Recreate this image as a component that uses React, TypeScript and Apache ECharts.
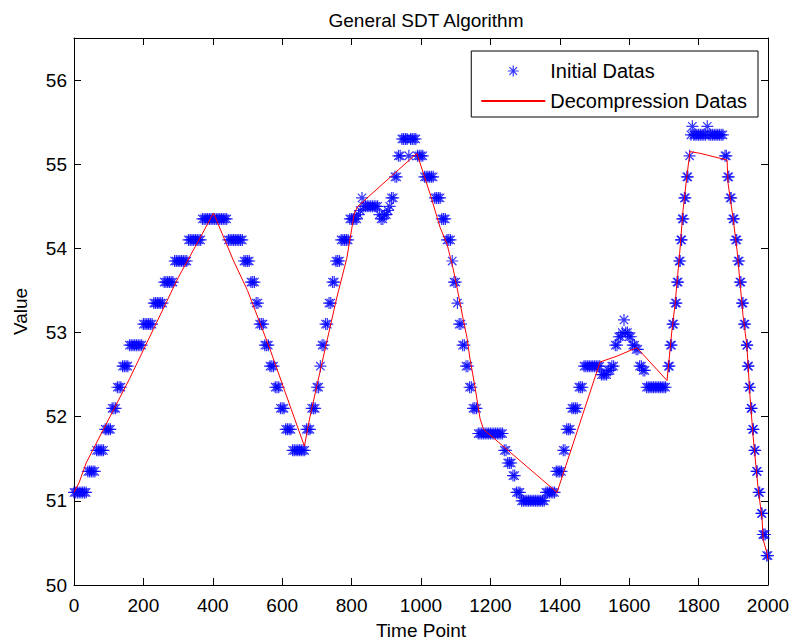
import React, { useEffect, useRef } from "react";
import * as echarts from "echarts";

const titleText = "General SDT Algorithm";
const xAxisName = "Time Point";
const yAxisName = "Value";
const initialName = "Initial Datas";
const decompName = "Decompression Datas";

const X_MIN = 0;
const X_MAX = 2000;
const X_STEP = 200;
const Y_MIN = 50;
const Y_MAX = 56.5;
const Y_STEP = 1;

// [time point, value]
const initialData: [number, number][] = [
  [0, 51.1], [5, 51.1], [10, 51.1], [15, 51.1], [20, 51.1], [25, 51.1], [30, 51.1], [35, 51.1],
  [40, 51.35], [45, 51.35], [50, 51.35], [55, 51.35], [60, 51.35],
  [65, 51.6], [70, 51.6], [75, 51.6], [80, 51.6], [85, 51.6],
  [90, 51.85], [95, 51.85], [100, 51.85], [105, 51.85],
  [110, 52.1], [115, 52.1], [120, 52.1],
  [125, 52.35], [130, 52.35], [135, 52.35],
  [140, 52.6], [145, 52.6], [150, 52.6], [155, 52.6],
  [160, 52.85], [165, 52.85], [170, 52.85], [175, 52.85], [180, 52.85], [185, 52.85], [190, 52.85], [195, 52.85],
  [200, 53.1], [205, 53.1], [210, 53.1], [215, 53.1], [220, 53.1], [225, 53.1],
  [230, 53.35], [235, 53.35], [240, 53.35], [245, 53.35], [250, 53.35], [255, 53.35],
  [260, 53.6], [265, 53.6], [270, 53.6], [275, 53.6], [280, 53.6], [285, 53.6],
  [290, 53.85], [295, 53.85], [300, 53.85], [305, 53.85], [310, 53.85], [315, 53.85], [320, 53.85], [325, 53.85],
  [330, 54.1], [335, 54.1], [340, 54.1], [345, 54.1], [350, 54.1], [355, 54.1], [360, 54.1], [365, 54.1],
  [370, 54.35], [375, 54.35], [380, 54.35], [385, 54.35], [390, 54.35], [395, 54.35], [400, 54.35],
  [405, 54.35], [410, 54.35], [415, 54.35], [420, 54.35], [425, 54.35], [430, 54.35], [435, 54.35], [440, 54.35],
  [445, 54.1], [450, 54.1], [455, 54.1], [460, 54.1], [465, 54.1], [470, 54.1], [475, 54.1], [480, 54.1], [485, 54.1],
  [490, 53.85], [495, 53.85], [500, 53.85], [505, 53.85],
  [510, 53.6], [515, 53.6], [520, 53.6],
  [525, 53.35], [530, 53.35],
  [535, 53.1], [540, 53.1], [545, 53.1],
  [550, 52.85], [555, 52.85], [560, 52.85],
  [565, 52.6], [570, 52.6], [575, 52.6],
  [580, 52.35], [585, 52.35], [590, 52.35],
  [595, 52.1], [600, 52.1], [605, 52.1],
  [610, 51.85], [615, 51.85], [620, 51.85], [625, 51.85],
  [630, 51.6], [635, 51.6], [640, 51.6], [645, 51.6], [650, 51.6], [655, 51.6], [660, 51.6], [665, 51.6],
  [670, 51.85], [675, 51.85], [680, 51.85], [685, 52.1], [690, 52.1], [695, 52.1], [700, 52.35], [705, 52.35],
  [710, 52.6], [715, 52.85], [720, 52.85], [725, 53.1], [730, 53.1], [735, 53.35], [740, 53.35], [745, 53.6],
  [750, 53.6], [755, 53.85], [760, 53.85], [765, 53.85], [770, 54.1], [775, 54.1], [780, 54.1], [785, 54.1],
  [790, 54.1], [795, 54.35], [800, 54.35], [805, 54.35], [810, 54.35], [815, 54.35],
  [820, 54.4], [825, 54.45], [830, 54.6], [835, 54.5], [840, 54.5], [845, 54.5], [850, 54.5], [855, 54.5],
  [860, 54.5], [865, 54.5], [870, 54.5], [875, 54.5], [880, 54.4], [885, 54.35], [890, 54.35], [895, 54.4],
  [900, 54.4], [905, 54.45], [910, 54.5], [915, 54.6], [920, 54.6], [925, 54.85], [930, 54.85], [935, 55.1],
  [940, 55.1], [945, 55.3], [950, 55.3], [955, 55.3], [960, 55.3], [965, 55.1], [970, 55.3], [975, 55.3],
  [980, 55.3], [985, 55.3], [990, 55.1], [995, 55.1], [1000, 55.1], [1005, 55.1],
  [1010, 54.85], [1015, 54.85], [1020, 54.85], [1025, 54.85], [1030, 54.85], [1035, 54.85],
  [1040, 54.6], [1045, 54.6], [1050, 54.6], [1055, 54.6], [1060, 54.35], [1065, 54.35], [1070, 54.35], [1075, 54.1],
  [1080, 54.1], [1085, 54.1], [1090, 53.85], [1095, 53.6], [1100, 53.6], [1105, 53.35], [1110, 53.1],
  [1115, 53.1], [1120, 52.85], [1125, 52.85], [1130, 52.6], [1135, 52.6], [1140, 52.35], [1145, 52.35],
  [1150, 52.1], [1155, 52.1], [1160, 52.1],
  [1165, 51.8], [1170, 51.8], [1175, 51.8], [1180, 51.8], [1185, 51.8], [1190, 51.8], [1195, 51.8],
  [1200, 51.8], [1205, 51.8], [1210, 51.8], [1215, 51.8], [1220, 51.8], [1225, 51.8], [1230, 51.8], [1235, 51.8],
  [1240, 51.6], [1245, 51.6], [1250, 51.45], [1255, 51.45], [1260, 51.45], [1265, 51.3], [1270, 51.3],
  [1275, 51.1], [1280, 51.1], [1285, 51.1],
  [1290, 51.0], [1295, 51.0], [1300, 51.0], [1305, 51.0], [1310, 51.0], [1315, 51.0], [1320, 51.0], [1325, 51.0],
  [1330, 51.0], [1335, 51.0], [1340, 51.0], [1345, 51.0], [1350, 51.0], [1355, 51.0],
  [1360, 51.1], [1365, 51.1], [1370, 51.1], [1375, 51.1], [1380, 51.1], [1385, 51.1],
  [1390, 51.35], [1395, 51.35], [1400, 51.35], [1405, 51.35], [1410, 51.6], [1415, 51.6], [1420, 51.85],
  [1425, 51.85], [1430, 51.85], [1435, 52.1], [1440, 52.1], [1445, 52.1], [1450, 52.1], [1455, 52.35],
  [1460, 52.35], [1465, 52.35],
  [1470, 52.6], [1475, 52.6], [1480, 52.6], [1485, 52.6], [1490, 52.6], [1495, 52.6], [1500, 52.6], [1505, 52.6],
  [1510, 52.6], [1515, 52.6], [1520, 52.5], [1525, 52.5], [1530, 52.5], [1535, 52.5], [1540, 52.55], [1545, 52.55],
  [1550, 52.6], [1555, 52.6], [1560, 52.85], [1565, 52.85], [1570, 52.95], [1575, 52.95], [1580, 53.0],
  [1585, 53.15], [1590, 53.0], [1595, 53.0], [1600, 52.95], [1605, 52.95], [1610, 52.85], [1615, 52.85],
  [1620, 52.8], [1625, 52.8], [1630, 52.6], [1635, 52.6], [1640, 52.55], [1645, 52.55],
  [1650, 52.35], [1655, 52.35], [1660, 52.35], [1665, 52.35], [1670, 52.35], [1675, 52.35], [1680, 52.35],
  [1685, 52.35], [1690, 52.35], [1695, 52.35], [1700, 52.35], [1705, 52.35],
  [1713, 52.6], [1716, 52.6], [1719, 52.85], [1722, 52.85], [1725, 53.1], [1728, 53.1], [1733, 53.35],
  [1736, 53.35], [1738, 53.6], [1741, 53.6], [1744, 53.85], [1747, 53.85], [1749, 54.1], [1751, 54.1],
  [1753, 54.35], [1756, 54.35], [1759, 54.6], [1762, 54.6], [1766, 54.85], [1769, 54.85], [1774, 55.1],
  [1778, 55.35], [1782, 55.45], [1786, 55.35], [1790, 55.35], [1795, 55.35], [1800, 55.35], [1805, 55.35],
  [1810, 55.35], [1815, 55.35], [1820, 55.35], [1825, 55.45], [1830, 55.35], [1835, 55.35], [1840, 55.35],
  [1845, 55.35], [1850, 55.35], [1855, 55.35], [1860, 55.35], [1865, 55.35], [1870, 55.35], [1876, 55.1],
  [1880, 55.1], [1884, 54.85], [1887, 54.85], [1891, 54.6], [1894, 54.6], [1899, 54.35], [1902, 54.35],
  [1907, 54.1], [1910, 54.1], [1914, 53.85], [1917, 53.85], [1919, 53.6], [1922, 53.6], [1925, 53.35],
  [1928, 53.35], [1931, 53.1], [1934, 53.1], [1939, 52.85], [1940, 52.85], [1942, 52.6], [1944, 52.6],
  [1946, 52.35], [1948, 52.35], [1951, 52.1], [1953, 52.1], [1956, 51.85], [1958, 51.85], [1961, 51.6],
  [1963, 51.6], [1967, 51.35], [1969, 51.35], [1973, 51.1], [1976, 51.1], [1981, 50.85], [1983, 50.85],
  [1985, 50.6], [1988, 50.6], [1992, 50.6], [1996, 50.35], [2000, 50.35],
];

// vertices of the decompressed (SDT) polyline
const decompressionData: [number, number][] = [
  [0, 51.1], [15, 51.22], [35, 51.45], [60, 51.65], [110, 52.05], [160, 52.45], [230, 53.05], [300, 53.65],
  [360, 54.1], [402, 54.42], [460, 53.85], [500, 53.5], [565, 52.8], [625, 52.1], [664, 51.65], [680, 52.0],
  [700, 52.37], [729, 52.9], [757, 53.41], [786, 53.88], [808, 54.42], [818, 54.5], [988, 55.13],
  [1026, 54.65], [1055, 54.25], [1075, 54.05], [1092, 53.77], [1104, 53.53], [1121, 53.17], [1133, 52.93],
  [1141, 52.69], [1155, 52.37], [1170, 51.98], [1180, 51.85], [1392, 51.1], [1516, 52.65], [1565, 52.72],
  [1622, 52.82], [1709, 52.43], [1723, 53.02], [1732, 53.33], [1746, 53.97], [1755, 54.45], [1766, 54.85],
  [1775, 55.15], [1804, 55.13], [1882, 55.05], [1885, 54.77], [1899, 54.37], [1911, 53.97], [1928, 53.2],
  [1939, 52.85], [1948, 52.25], [1957, 51.77], [1971, 51.17], [1983, 50.78], [1986, 50.54], [1997, 50.38],
  [2000, 50.3],
];

const FONT = "'Liberation Sans', Arial, Helvetica, sans-serif";
const ASTERISK = "path://M5,0L5,10M0,5L10,5M1.5,1.5L8.5,8.5M1.5,8.5L8.5,1.5";

export default function App() {
  const ref = useRef<HTMLDivElement>(null);
  useEffect(() => {
    if (!ref.current) return;
    const chart = echarts.init(ref.current, null, { renderer: "svg" });
    const axisCommon = {
      axisLine: { show: true, onZero: false, lineStyle: { color: "#000", width: 1 } },
      axisTick: { show: true, inside: true, length: 7, lineStyle: { color: "#000", width: 1 } },
      splitLine: { show: false },
    };
    const yLabelFormatter = (v: number) => (Number.isInteger(v) ? String(v) : "");
    const xLabelFormatter = (v: number) => String(v);
    chart.setOption({
      animation: false,
      backgroundColor: "#fff",
      textStyle: { fontFamily: FONT },
      title: {
        text: titleText,
        left: 421,
        top: 6,
        textAlign: "center",
        textStyle: { fontSize: 19, fontWeight: "normal", color: "#000", fontFamily: FONT },
      },
      grid: { left: 74, right: 24, top: 38, bottom: 58, containLabel: false, outerBoundsMode: "none" },
      legend: {
        orient: "vertical",
        right: 34,
        top: 51,
        padding: [10, 11, 6, 9],
        itemGap: 10,
        itemWidth: 64,
        itemHeight: 11,
        borderColor: "#000",
        borderWidth: 1,
        backgroundColor: "#fff",
        selectedMode: false,
        itemStyle: { borderWidth: 1.2 },
        textStyle: { fontSize: 20, color: "#000", fontFamily: FONT, lineHeight: 20 },
        data: [
          { name: initialName, icon: ASTERISK },
          { name: decompName, itemStyle: { color: "transparent", borderColor: "transparent", borderWidth: 0 } },
        ],
      },
      xAxis: [
        {
          type: "value",
          position: "bottom",
          min: X_MIN,
          max: X_MAX,
          interval: X_STEP,
          name: xAxisName,
          nameLocation: "middle",
          nameGap: 36,
          nameTextStyle: { fontSize: 19, color: "#000", fontFamily: FONT },
          axisLabel: { margin: 11, fontSize: 19, color: "#000", fontFamily: FONT, formatter: xLabelFormatter },
          ...axisCommon,
        },
        {
          type: "value",
          position: "top",
          min: X_MIN,
          max: X_MAX,
          interval: X_STEP,
          axisLabel: { show: false },
          ...axisCommon,
        },
      ],
      yAxis: [
        {
          type: "value",
          position: "left",
          min: Y_MIN,
          max: Y_MAX,
          interval: Y_STEP,
          name: yAxisName,
          nameLocation: "middle",
          nameGap: 44,
          nameTextStyle: { fontSize: 19, color: "#000", fontFamily: FONT },
          axisLabel: { margin: 7, fontSize: 19, color: "#000", fontFamily: FONT, formatter: yLabelFormatter, showMaxLabel: false },
          ...axisCommon,
        },
        {
          type: "value",
          position: "right",
          min: Y_MIN,
          max: Y_MAX,
          interval: Y_STEP,
          axisLabel: { show: false },
          ...axisCommon,
        },
      ],
      series: [
        {
          type: "scatter",
          name: initialName,
          xAxisIndex: 0,
          yAxisIndex: 0,
          data: initialData,
          symbol: ASTERISK,
          symbolSize: 12,
          itemStyle: { color: "transparent", borderColor: "#0000ff", borderWidth: 1.2 },
          z: 2,
        },
        {
          type: "line",
          name: decompName,
          xAxisIndex: 0,
          yAxisIndex: 0,
          data: decompressionData,
          symbol: "none",
          showSymbol: false,
          lineStyle: { color: "#ff0000", width: 1 },
          itemStyle: { color: "#ff0000" },
          z: 3,
        },
      ],
    });
    return () => chart.dispose();
  }, []);
  return (
    <div
      ref={ref}
      style={{ position: "fixed", left: 0, top: 0, width: 792, height: 643, background: "#fff" }}
    />
  );
}
